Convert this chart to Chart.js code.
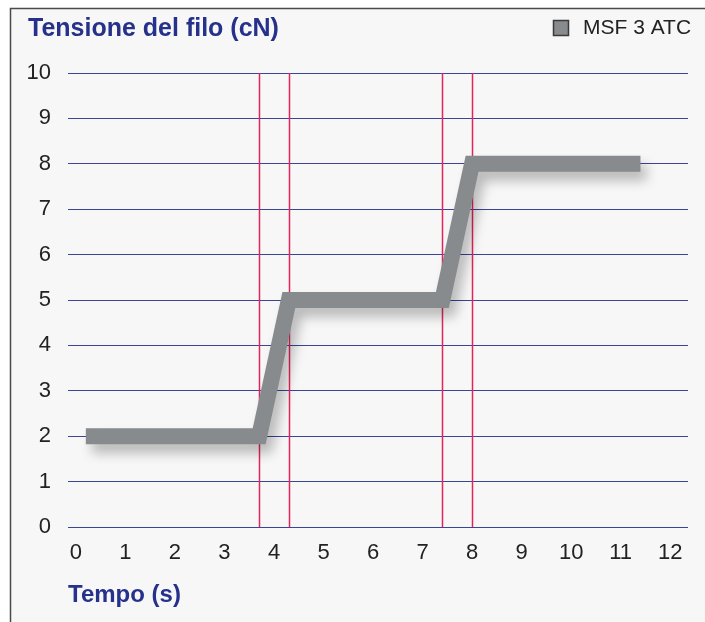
<!DOCTYPE html>
<html>
<head>
<meta charset="utf-8">
<script src="https://cdn.jsdelivr.net/npm/chart.js@4/dist/chart.umd.min.js"></script>
<style>
  body { margin: 0; background: #fff; }
  #wrap { width: 705px; height: 622px; }
</style>
</head>
<body>
<div id="wrap"><canvas id="tensionChart" width="705" height="622"></canvas></div>
<script>
// time (s) and thread tension (cN)
const timeValues = [0.2, 3.7, 4.3, 7.4, 8.0, 11.4];
const tensionValues = [2, 2, 5, 5, 8, 8];
const seriesName = 'MSF 3 ATC';
const xTicks = [0, 1, 2, 3, 4, 5, 6, 7, 8, 9, 10, 11, 12];
const yTicks = [0, 1, 2, 3, 4, 5, 6, 7, 8, 9, 10];
const markerTimes = [3.7, 4.3, 7.4, 8.0];  // red vertical lines

const blue = '#25318a';
const gridBlue = '#3a4596';
const fontFamily = '"Liberation Sans", Arial, sans-serif';

// light grey panel with a dark frame on the left and top
const panelPlugin = {
  id: 'panel',
  beforeDraw(chart) {
    const ctx = chart.ctx;
    ctx.save();
    ctx.fillStyle = '#ffffff';
    ctx.fillRect(0, 0, chart.width, chart.height);
    ctx.fillStyle = '#f7f7f7';
    ctx.fillRect(10, 8, chart.width - 10, chart.height - 8);
    ctx.strokeStyle = '#4a4a4a';
    ctx.lineWidth = 1.5;
    ctx.beginPath();
    ctx.moveTo(10.5, chart.height);
    ctx.lineTo(10.5, 8.5);
    ctx.lineTo(chart.width, 8.5);
    ctx.stroke();
    ctx.restore();
  }
};

// vertical red marker lines
const markerPlugin = {
  id: 'markers',
  beforeDatasetsDraw(chart) {
    const { ctx, chartArea, scales } = chart;
    ctx.save();
    ctx.strokeStyle = '#e3245c';
    ctx.lineWidth = 1.5;
    markerTimes.forEach(t => {
      const x = Math.round(scales.x.getPixelForValue(t)) + 0.5;
      ctx.beginPath();
      ctx.moveTo(x, chartArea.top);
      ctx.lineTo(x, chartArea.bottom);
      ctx.stroke();
    });
    ctx.restore();
  }
};

// soft drop shadow under the grey line
const shadowPlugin = {
  id: 'lineShadow',
  beforeDatasetDraw(chart) {
    const ctx = chart.ctx;
    ctx.save();
    ctx.shadowColor = 'rgba(0, 0, 0, 0.25)';
    ctx.shadowBlur = 12;
    ctx.shadowOffsetX = 6;
    ctx.shadowOffsetY = 9;
  },
  afterDatasetDraw(chart) {
    chart.ctx.restore();
  }
};

// legend in the title row, top right
const legendPlugin = {
  id: 'cornerLegend',
  afterDraw(chart) {
    const ctx = chart.ctx;
    const ds = chart.data.datasets[0];
    ctx.save();
    ctx.fillStyle = ds.borderColor;
    ctx.strokeStyle = '#3a3a3a';
    ctx.lineWidth = 1.5;
    ctx.fillRect(553, 20, 16, 16);
    ctx.strokeRect(553.5, 20.5, 15, 15);
    ctx.fillStyle = '#222';
    ctx.font = '21px ' + fontFamily;
    ctx.textBaseline = 'middle';
    ctx.textAlign = 'left';
    ctx.fillText(ds.label, 583, 28.5);
    ctx.restore();
  }
};

const ctx = document.getElementById('tensionChart').getContext('2d');
const tensionChart = new Chart(ctx, {
  type: 'line',
  data: {
    datasets: [{
      label: seriesName,
      data: timeValues.map((t, i) => ({ x: t, y: tensionValues[i] })),
      borderColor: '#878b8d',
      backgroundColor: '#878b8d',
      borderWidth: 16,
      borderJoinStyle: 'miter',
      borderCapStyle: 'butt',
      pointRadius: 0,
      tension: 0,
      fill: false
    }]
  },
  options: {
    responsive: false,
    animation: false,
    layout: { padding: { left: 28, right: 17, top: 0, bottom: 0 } },
    plugins: {
      legend: { display: false },
      tooltip: { enabled: false },
      title: {
        display: true,
        text: 'Tensione del filo (cN)',
        align: 'start',
        color: blue,
        font: { family: fontFamily, size: 25, weight: 'bold' },
        padding: { top: 14, bottom: 29 }
      }
    },
    scales: {
      x: {
        type: 'linear',
        min: -0.16,
        max: 12.36,
        afterBuildTicks: scale => { scale.ticks = xTicks.map(v => ({ value: v })); },
        afterFit: scale => { scale.height = 95; },
        grid: { display: false },
        border: { display: false },
        ticks: {
          color: '#222',
          padding: 5,
          maxRotation: 0,
          autoSkip: false,
          font: { family: fontFamily, size: 22 }
        },
        title: {
          display: true,
          text: 'Tempo (s)',
          align: 'start',
          color: blue,
          font: { family: fontFamily, size: 24, weight: 'bold' },
          padding: { top: 0, bottom: 12 }
        }
      },
      y: {
        min: 0,
        max: 10,
        afterBuildTicks: scale => { scale.ticks = yTicks.map(v => ({ value: v })); },
        afterFit: scale => { scale.width = 40; },
        grid: { color: gridBlue, lineWidth: 1, drawTicks: false },
        border: { display: false },
        ticks: {
          color: '#222',
          padding: 17,
          font: { family: fontFamily, size: 22 }
        }
      }
    }
  },
  plugins: [panelPlugin, markerPlugin, shadowPlugin, legendPlugin]
});
</script>
</body>
</html>
